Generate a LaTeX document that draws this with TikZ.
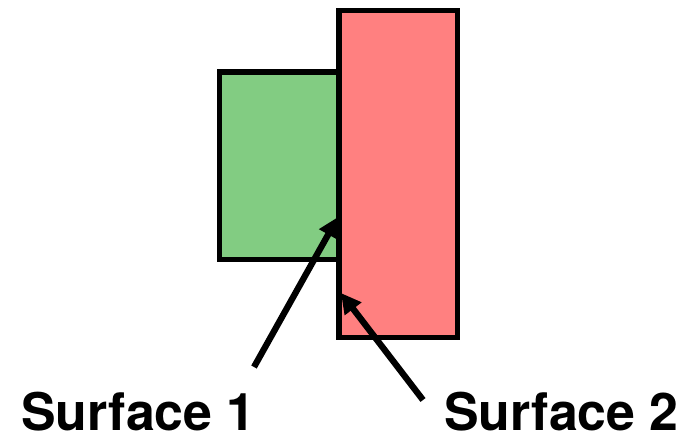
\documentclass[tikz,border=0pt]{standalone}
\usepackage{fontspec}
\setmainfont{TeX Gyre Heros}
\usetikzlibrary{arrows.meta}
\definecolor{surfgreen}{RGB}{130,204,130}
\definecolor{surfred}{RGB}{255,128,128}
\newcommand{\LABEL}[1]{\fontsize{29.5}{32}\selectfont\bfseries #1}

\begin{document}
\begin{tikzpicture}[x=0.02cm,y=-0.02cm]
    \useasboundingbox (0,0) rectangle (683,436);
    \tikzset{
        block/.style={draw=black,line width=3.3pt},
        pointer/.style={line width=3.6pt,-{Triangle[length=0.4cm,width=0.4cm]}},
        tag/.style={anchor=base west,inner sep=0pt}
    }

    \draw[block,fill=surfgreen] (219.5,72) rectangle (339,259.5);
    \draw[block,fill=surfred] (339,10.5) rectangle (457.5,337.5);

    \coordinate (tip1) at (338,217);
    \coordinate (tip2) at (341,293);
    \coordinate (tail1) at (254,367);
    \coordinate (tail2) at (423,400);

    \node[tag] (s1) at (21,430) {\LABEL{Surface 1}};
    \node[tag] (s2) at (444,430) {\LABEL{Surface 2}};

    \draw[pointer] (tail1) -- (tip1);
    \draw[pointer] (tail2) -- (tip2);
\end{tikzpicture}
\end{document}
